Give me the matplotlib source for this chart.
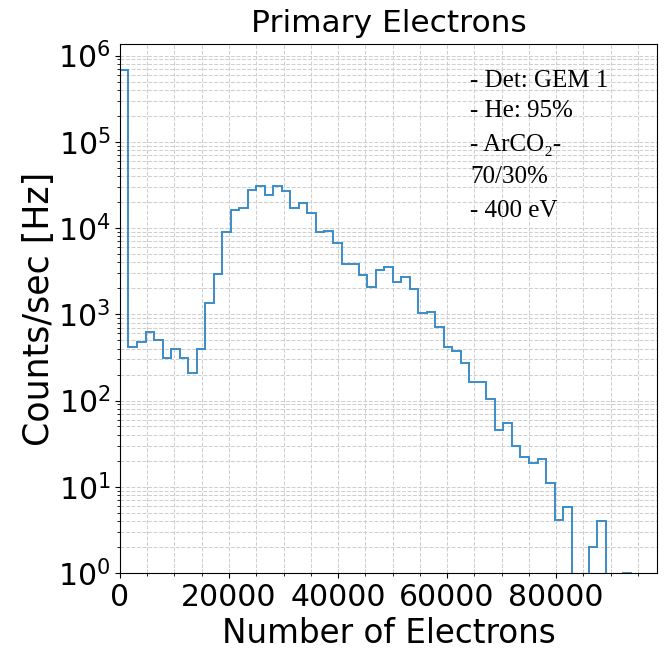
import matplotlib

matplotlib.use("Agg")
import matplotlib.pyplot as plt
import numpy as np
from matplotlib.ticker import AutoMinorLocator, MultipleLocator

# histogram of primary electrons, 60 bins
n_bins = 60
bin_width = 1563  # electrons per bin

# counts/sec per bin
rates = [
    6.8e5, 420, 475, 615, 500, 315, 400, 315, 210, 400,
    1335, 2920, 8900, 16100, 17150, 27500, 30600, 24100, 30600, 27000,
    17150, 19600, 14800, 8900, 9150, 6750, 3780, 3780, 2870, 2080,
    3250, 3490, 2360, 2670, 1960, 1040, 1070, 720, 420, 373,
    273, 162, 162, 104, 46, 55, 30, 22, 19, 21,
    11.2, 4.1, 5.9, 0, 0, 2.0, 4.0, 0, 0, 1.0,
]

info_lines = ["- Det: GEM 1", "- He: 95%", "- ArCO\u2082-", "70/30%", "- 400 eV"]

edges = np.arange(n_bins + 1) * bin_width
lefts = edges[:-1]

fig = plt.figure(figsize=(6.71, 6.61), dpi=100)
ax = fig.add_axes([0.1788, 0.1331, 0.8003, 0.8003])

ax.hist(lefts, bins=edges, weights=rates, histtype="step", log=True,
        color="#3a8cc9", linewidth=1.4)

ax.set_xlim(0, 98500)
ax.set_ylim(1, 1.36e6)

ax.xaxis.set_major_locator(MultipleLocator(20000))
ax.xaxis.set_minor_locator(AutoMinorLocator(4))
ax.grid(True, which="both", linestyle="--", color="#cfcfcf", linewidth=0.75)
ax.set_axisbelow(True)

ax.tick_params(axis="both", which="major", labelsize=21.5)
ax.set_title("Primary Electrons", fontsize=22.5, pad=9)
ax.set_xlabel("Number of Electrons", fontsize=23.5)
ax.set_ylabel("Counts/sec [Hz]", fontsize=25, labelpad=1)

# annotation box, Times-like serif
baselines = [0.919, 0.862, 0.797, 0.738, 0.673]
for line, yb in zip(info_lines, baselines):
    ax.text(0.652, yb, line, transform=ax.transAxes, va="baseline", ha="left",
            fontsize=18, family=["Liberation Serif", "DejaVu Serif"])

fig.savefig("out.png", dpi=100)
